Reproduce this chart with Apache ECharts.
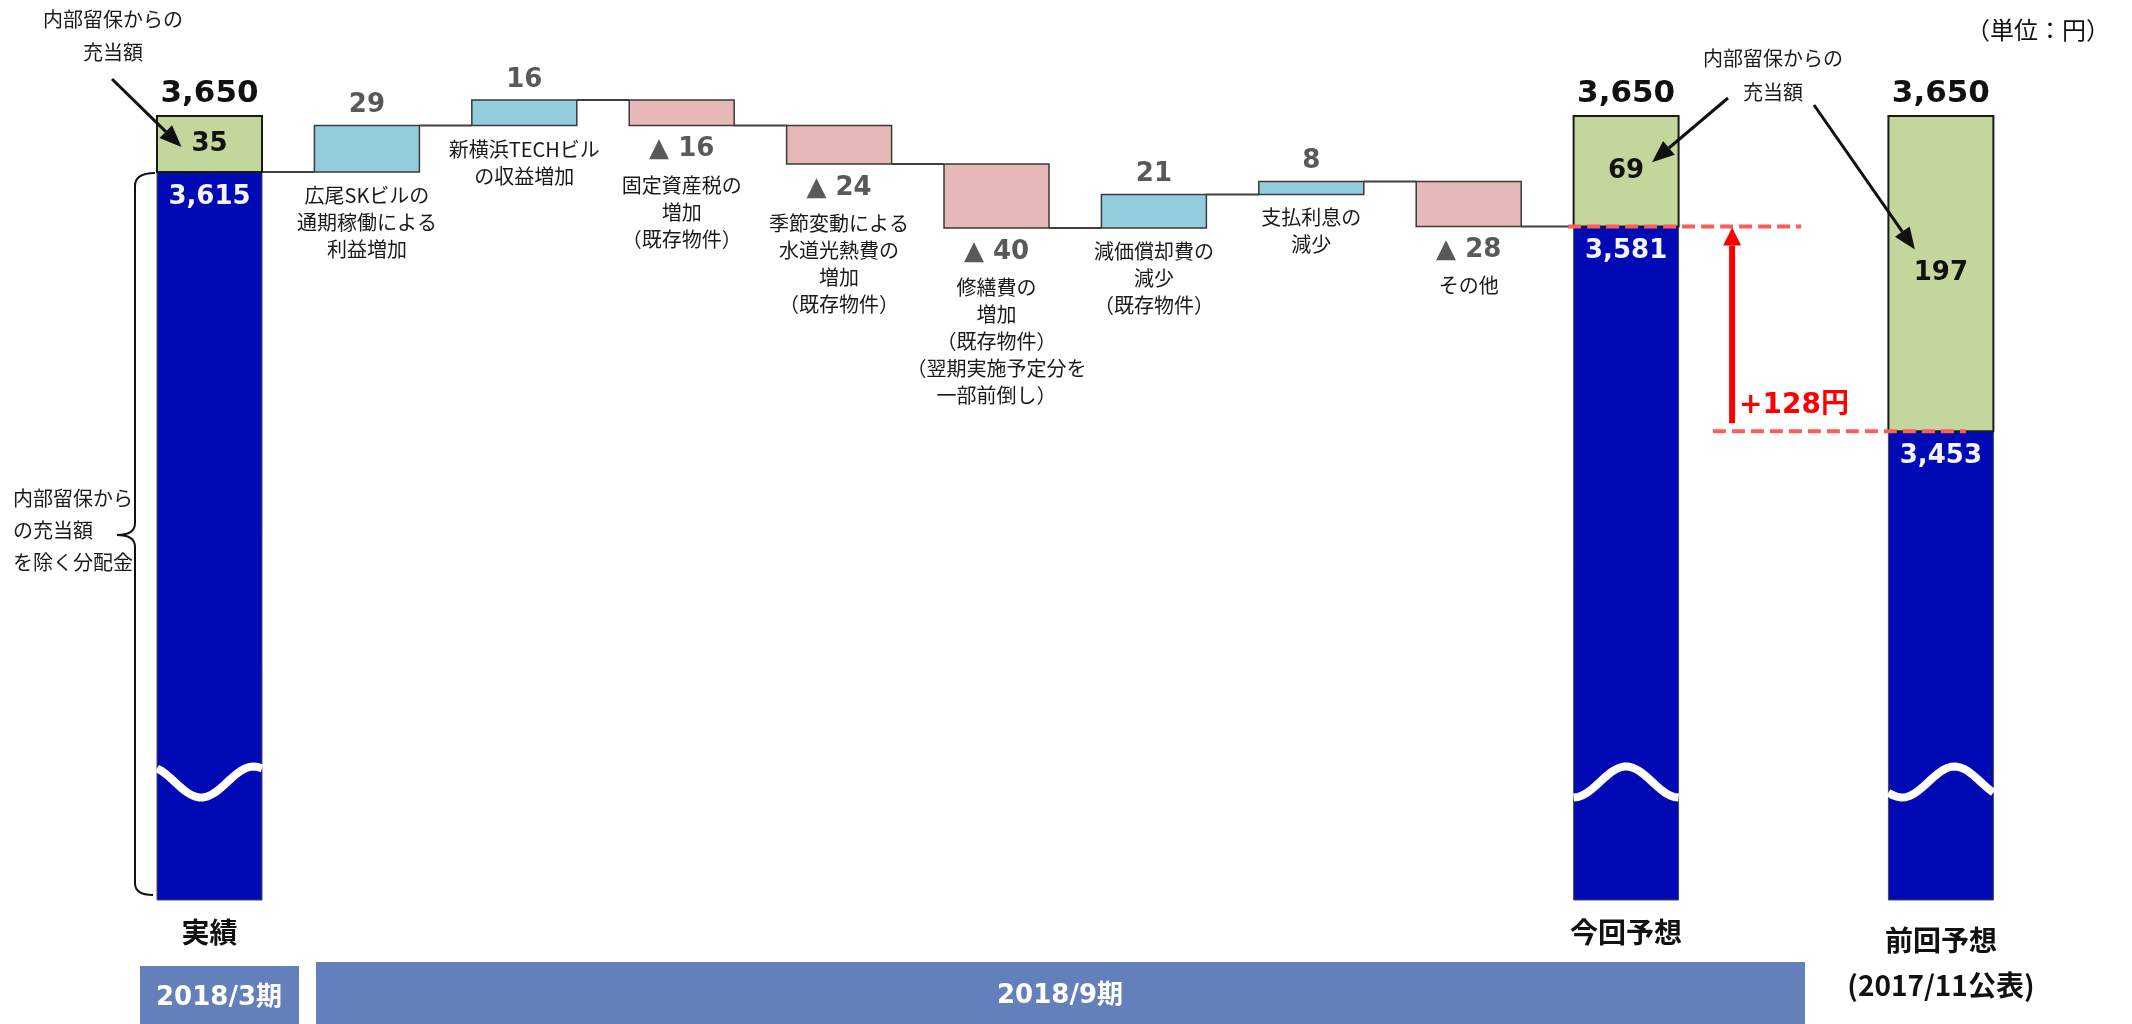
<!DOCTYPE html>
<html lang="ja">
<head>
<meta charset="utf-8">
<title>分配金の変動要因</title>
<script src="https://cdn.jsdelivr.net/npm/echarts@6/dist/echarts.min.js"></script>
<style>
  html, body { margin: 0; padding: 0; background: #fff; }
  #main { width: 2132px; height: 1024px; }
</style>
</head>
<body>
<div id="main"></div>
<script>
// 1口当たり分配金（単位：円）
const totalNames = ['実績', '今回予想', '前回予想\n(2017/11公表)'];
const totalBase = [3615, 3581, 3453];   // 内部留保からの充当額を除く分配金
const totalReserve = [35, 69, 197];     // 内部留保からの充当額
const stepNames = [
  '広尾SKビルの\n通期稼働による\n利益増加',
  '新横浜TECHビル\nの収益増加',
  '固定資産税の\n増加\n（既存物件）',
  '季節変動による\n水道光熱費の\n増加\n（既存物件）',
  '修繕費の\n増加\n（既存物件）\n（翌期実施予定分を\n一部前倒し）',
  '減価償却費の\n減少\n（既存物件）',
  '支払利息の\n減少',
  'その他'
];
const stepValues = [29, 16, -16, -24, -40, 21, 8, -28];
const periodLabels = ['2018/3期', '2018/9期'];
const reserveNote = '内部留保からの\n充当額';
const baseNote = '内部留保から\nの充当額\nを除く分配金';
const unitLabel = '（単位：円）';

// styles
const NUM = '"DejaVu Sans", "Noto Sans CJK JP", sans-serif';
const JP = '"Noto Sans CJK JP", sans-serif';
const BLUE = '#000AB4';
const GREEN = '#C3D69B';
const UP = '#93CDDD';
const DOWN = '#E6B9B8';
const BAND = '#6380BA';
const BAR_RATIO = 0.667;
const wavePhase = [0.42, 0, 0.13];

// category slots: 実績, 8 steps, 今回予想, (gap), 前回予想
const totalIndex = [0, stepNames.length + 1, stepNames.length + 3];
const categories = [];
for (let i = 0; i <= totalIndex[2]; i++) categories.push('');
totalIndex.forEach((x, i) => { categories[x] = totalNames[i]; });

const stepData = [];
let level = totalBase[0];
stepValues.forEach((v, i) => {
  stepData.push([i + 1, level, level + v, v]);
  level += v;
});
const totalData = totalIndex.map((x, i) => [x, totalBase[i], totalReserve[i], i]);

function txt(text, x, y, font, fill, align, vAlign, lineHeight) {
  const style = {
    text: text, x: x, y: y, font: font, fill: fill,
    align: align || 'center', verticalAlign: vAlign || 'middle',
    textAlign: align || 'center', textVerticalAlign: vAlign || 'middle'
  };
  if (lineHeight) { style.lineHeight = lineHeight; style.textLineHeight = lineHeight; }
  return { type: 'text', style: style };
}

function renderStep(params, api) {
  const x = api.value(0), from = api.value(1), to = api.value(2), v = api.value(3);
  const slot = api.size([1, 0])[0];
  const w = slot * BAR_RATIO;
  const p0 = api.coord([x, from]);
  const p1 = api.coord([x, to]);
  const top = Math.min(p0[1], p1[1]);
  const bottom = Math.max(p0[1], p1[1]);
  const left = p0[0] - w / 2;
  const children = [
    { type: 'line', shape: { x1: p0[0] - slot + w / 2, y1: p0[1], x2: left, y2: p0[1] },
      style: { stroke: '#404040', lineWidth: 2 } },
    { type: 'rect', shape: { x: left, y: top, width: w, height: bottom - top },
      style: { fill: v > 0 ? UP : DOWN, stroke: '#3a3a3a', lineWidth: 1.5 } }
  ];
  if (v > 0) {
    children.push(txt(String(v), p0[0], top - 20, 'bold 26px ' + NUM, '#595959'));
    children.push(txt(stepNames[params.dataIndex], p0[0], bottom + 10, '20px ' + JP, '#1a1a1a', 'center', 'top', 27));
  } else {
    children.push(txt('▲ ' + (-v), p0[0], bottom + 24, 'bold 26px ' + NUM, '#595959'));
    children.push(txt(stepNames[params.dataIndex], p0[0], bottom + 46, '20px ' + JP, '#1a1a1a', 'center', 'top', 27));
  }
  if (params.dataIndex === stepData.length - 1) {
    children.push({ type: 'line', shape: { x1: left + w, y1: p1[1], x2: p0[0] + slot - w / 2, y2: p1[1] },
      style: { stroke: '#404040', lineWidth: 2 } });
  }
  return { type: 'group', children: children };
}

function renderTotal(params, api) {
  const x = api.value(0), base = api.value(1), reserve = api.value(2), k = api.value(3);
  const slot = api.size([1, 0])[0];
  const w = slot * BAR_RATIO;
  const floor = params.coordSys.y + params.coordSys.height;
  const pb = api.coord([x, base]);
  const pt = api.coord([x, base + reserve]);
  const left = pb[0] - w / 2;
  const wave = [];
  for (let t = 0; t <= 1.0001; t += 0.04) {
    wave.push([left + t * w, floor - 118 + 15.5 * Math.cos(2 * Math.PI * (t - wavePhase[k]))]);
  }
  return {
    type: 'group',
    children: [
      { type: 'rect', shape: { x: left, y: pb[1], width: w, height: floor - pb[1] },
        style: { fill: BLUE, stroke: '#4a4a4a', lineWidth: 1 } },
      { type: 'polyline', shape: { points: wave },
        style: { stroke: '#fff', lineWidth: 8, fill: null } },
      { type: 'rect', shape: { x: left, y: pt[1], width: w, height: pb[1] - pt[1] },
        style: { fill: GREEN, stroke: '#1a1a1a', lineWidth: 2 } },
      txt((base + reserve).toLocaleString('en-US'), pb[0], pt[1] - 22, 'bold 31px ' + NUM, '#111'),
      txt(String(reserve), pb[0], (pt[1] + pb[1]) / 2, 'bold 26px ' + NUM, '#111'),
      txt(base.toLocaleString('en-US'), pb[0], pb[1] + 25, 'bold 26px ' + NUM, '#f4f4ff')
    ]
  };
}

const chart = echarts.init(document.getElementById('main'));
chart.setOption({
  animation: false,
  backgroundColor: '#fff',
  grid: { left: 130.8, right: 112.4, top: 36, bottom: 124, containLabel: false, outerBoundsMode: 'none' },
  xAxis: {
    type: 'category',
    data: categories.map((c, i) => i === totalIndex[2]
      ? { value: c, textStyle: { padding: [8, 0, 0, 0] } } : c),
    axisLine: { show: false },
    axisTick: { show: false },
    axisLabel: {
      interval: 0, margin: 10, color: '#111', fontFamily: JP,
      fontWeight: 'bold', fontSize: 28, lineHeight: 45
    }
  },
  yAxis: { type: 'value', min: 3160, max: 3700, show: false },
  series: [
    { type: 'custom', name: 'steps', renderItem: renderStep, data: stepData, z: 3 },
    { type: 'custom', name: 'totals', renderItem: renderTotal, data: totalData, z: 3 }
  ]
});

// annotations
function arrow(x1, y1, x2, y2, color, width, headLen, headW) {
  const a = Math.atan2(y2 - y1, x2 - x1);
  const bx = x2 - headLen * Math.cos(a), by = y2 - headLen * Math.sin(a);
  const nx = -Math.sin(a) * headW / 2, ny = Math.cos(a) * headW / 2;
  return [
    { type: 'line', z: 100, shape: { x1: x1, y1: y1, x2: bx, y2: by }, style: { stroke: color, lineWidth: width } },
    { type: 'polygon', z: 100, shape: { points: [[x2, y2], [bx + nx, by + ny], [bx - nx, by - ny]] }, style: { fill: color } }
  ];
}
function gtxt(text, x, y, font, fill, align, lineHeight) {
  const t = txt(text, x, y, font, fill, align, 'middle', lineHeight);
  t.z = 100;
  return t;
}
function curve(x1, y1, cx, cy, x2, y2) {
  return { type: 'bezierCurve', z: 100, shape: { x1: x1, y1: y1, cpx1: cx, cpy1: cy, x2: x2, y2: y2 },
    style: { stroke: '#111', lineWidth: 2, fill: null } };
}
function dashed(x1, x2, y) {
  return { type: 'line', z: 100, shape: { x1: x1, y1: y, x2: x2, y2: y },
    style: { stroke: '#FF5B5B', lineWidth: 4, lineDash: [13, 6] } };
}

const px = (i, v) => chart.convertToPixel({ gridIndex: 0 }, [totalIndex[i], v]);
const base0 = px(0, totalBase[0]), top0 = px(0, totalBase[0] + totalReserve[0]);
const baseCur = px(1, totalBase[1]), topCur = px(1, totalBase[1] + totalReserve[1]);
const basePrev = px(2, totalBase[2]), topPrev = px(2, totalBase[2] + totalReserve[2]);
const mid0 = (base0[1] + top0[1]) / 2;
const midCur = (baseCur[1] + topCur[1]) / 2;
const midPrev = (basePrev[1] + topPrev[1]) / 2;
const gain = totalBase[1] - totalBase[2];

const graphics = [
  { type: 'rect', z: 1, shape: { x: 140, y: 966, width: 159, height: 58 }, style: { fill: BAND } },
  { type: 'rect', z: 1, shape: { x: 316, y: 962, width: 1489, height: 62 }, style: { fill: BAND } },
  gtxt(periodLabels[0], 219, 998, 'bold 26px ' + NUM, '#fff'),
  gtxt(periodLabels[1], 1060, 996, 'bold 26px ' + NUM, '#fff'),
  gtxt(unitLabel, 2038, 30, '24px ' + JP, '#111'),
  gtxt(reserveNote, 113, 36, '20px ' + JP, '#1a1a1a', 'center', 33),
  gtxt(reserveNote, 1773, 75, '20px ' + JP, '#1a1a1a', 'center', 34),
  gtxt(baseNote, 13, 530, '20px ' + JP, '#1a1a1a', 'left', 32),
  // brace
  curve(155, 173, 135, 173, 135, 186),
  { type: 'line', z: 100, shape: { x1: 135, y1: 186, x2: 135, y2: 523 }, style: { stroke: '#111', lineWidth: 2 } },
  curve(135, 523, 135, 535, 117, 535),
  curve(117, 535, 135, 535, 135, 547),
  { type: 'line', z: 100, shape: { x1: 135, y1: 547, x2: 135, y2: 883 }, style: { stroke: '#111', lineWidth: 2 } },
  curve(135, 883, 135, 895, 153, 895),
  // red comparison
  dashed(baseCur[0] - 58, baseCur[0] + 175, baseCur[1]),
  dashed(basePrev[0] - 228, basePrev[0] + 25, basePrev[1]),
  gtxt('+' + gain + '円', baseCur[0] + 113, basePrev[1] - 25, 'bold 28px ' + NUM, '#FF0000', 'left')
];
graphics.push.apply(graphics, arrow(112, 79, base0[0] - 28, mid0 + 3, '#111', 3, 22, 18));
graphics.push.apply(graphics, arrow(1728, 98, baseCur[0] + 26, midCur - 9, '#111', 3, 22, 18));
graphics.push.apply(graphics, arrow(1814, 105, basePrev[0] - 26, midPrev - 24, '#111', 3, 22, 18));
graphics.push.apply(graphics, arrow(baseCur[0] + 106, basePrev[1] - 8, baseCur[0] + 106, baseCur[1] + 1, '#FF0000', 6, 18, 18));

chart.setOption({ graphic: { elements: graphics } });
</script>
</body>
</html>
